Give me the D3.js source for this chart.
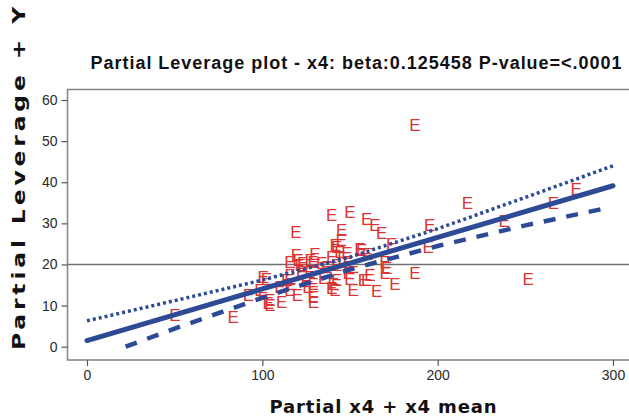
<!DOCTYPE html>
<html>
<head>
<meta charset="utf-8">
<script src="https://cdn.jsdelivr.net/npm/d3@7"></script>
<style>
  html, body { margin: 0; padding: 0; background: #fff; }
  svg { display: block; }
</style>
</head>
<body>
<svg id="chart" width="629" height="420"></svg>
<script>
// Partial leverage observations for x4 (partial x4 + x4 mean, partial leverage + Y)
const obsX = [187, 217, 279, 266, 238, 195.5, 194.6, 251.6, 187, 175.6,
              165.2, 159.5, 151.8, 170, 161.3, 150, 140.4, 150, 139.5, 159.5,
              164.2, 145.2, 168, 173.7, 156.6, 142.4, 119.2, 115.7, 120.5, 129,
              133.8, 139.5, 100.5, 50.2, 83.4, 92, 100.5, 103.4, 111, 115.7,
              113.9, 121.6, 129.2, 129, 129, 139.5, 142.4, 149, 122.4, 136.7,
              119.5, 127.3, 141.5, 144.2, 148.2, 155.6, 149, 142.4, 127.1, 129,
              141.4, 157.6, 170.9, 169.9, 102.4, 104.3, 98.6, 104.3, 116.7, 115.7,
              146, 152, 135, 125, 110, 160, 145, 130, 120, 123, 126];
const obsY = [53.9, 34.9, 38.5, 35.0, 30.7, 29.6, 24.3, 16.4, 17.9, 15.3,
              13.6, 16.2, 13.8, 17.9, 17.4, 16.6, 15.4, 32.8, 32.0, 31.2,
              29.6, 28.4, 27.7, 25.1, 23.5, 24.3, 28.0, 20.7, 21.1, 20.7,
              20.4, 21.9, 17.0, 7.7, 7.3, 12.6, 13.0, 10.6, 10.9, 13.8,
              16.2, 19.9, 10.9, 13.4, 15.4, 14.2, 16.2, 17.9, 18.2, 19.5,
              22.3, 21.1, 24.7, 23.1, 22.7, 23.9, 20.7, 19.9, 18.2, 12.2,
              13.8, 16.2, 19.1, 20.7, 16.6, 11.4, 13.8, 10.1, 15.4, 17.4,
              21.5, 19.5, 16.8, 16.0, 14.5, 22.5, 26.0, 22.5, 12.5, 20.5, 14.5];

// Fitted line (slope = beta 0.125458)
const fitX = [0, 300];
const fitY = [1.5, 39.14];

// Upper confidence limit (dotted)
const upperX = [0, 50, 100, 150, 200, 250, 300];
const upperY = [6.3, 11.2, 16.2, 21.8, 28.7, 36.3, 44.0];

// Lower confidence limit (dashed)
const lowerX = [22, 50, 100, 150, 200, 250, 295];
const lowerY = [0.0, 4.4, 11.9, 18.8, 24.5, 29.5, 33.6];

// Reference line at the mean of the response
const refY = 20;

const xTicks = [0, 100, 200, 300];
const yTicks = [0, 10, 20, 30, 40, 50, 60];

const titleText = "Partial Leverage plot - x4: beta:0.125458 P-value=<.0001";
const xTitle = "Partial x4 + x4 mean";
const yTitle = "Partial Leverage + Y";

const svg = d3.select("#chart");

const frame = { left: 67.5, top: 89.5, right: 640, bottom: 360 };

const x = d3.scaleLinear().domain([0, 300]).range([87, 613]);
const y = d3.scaleLinear().domain([0, 60]).range([346.7, 100]);

const blue = "#2d4a96";
const red = "#dc3333";
const frameColor = "#8a8a8a";

// Title
svg.append("text")
  .attr("x", 356).attr("y", 69)
  .attr("text-anchor", "middle")
  .attr("font-family", "Liberation Sans, Arial, sans-serif")
  .attr("font-weight", "bold")
  .attr("font-size", 18)
  .attr("fill", "#111")
  .attr("textLength", 531)
  .attr("lengthAdjust", "spacing")
  .text(titleText);

// Clip for plot contents
svg.append("clipPath").attr("id", "plotClip")
  .append("rect")
  .attr("x", frame.left).attr("y", frame.top)
  .attr("width", frame.right - frame.left).attr("height", frame.bottom - frame.top);

const plot = svg.append("g").attr("clip-path", "url(#plotClip)");

// Reference line
plot.append("line")
  .attr("x1", frame.left).attr("x2", frame.right)
  .attr("y1", y(refY)).attr("y2", y(refY))
  .attr("stroke", "#707070").attr("stroke-width", 1.5);

// Observation markers
plot.append("g").selectAll("text")
  .data(obsX.map((d, i) => [d, obsY[i]]))
  .join("text")
  .attr("x", d => x(d[0]))
  .attr("y", d => y(d[1]))
  .attr("dy", "0.36em")
  .attr("text-anchor", "middle")
  .attr("font-family", "Liberation Sans, Arial, sans-serif")
  .attr("font-size", 17)
  .attr("fill", red)
  .text("E");

const line = d3.line().x(d => x(d[0])).y(d => y(d[1]));

// Confidence limits and fit
plot.append("path")
  .datum(upperX.map((d, i) => [d, upperY[i]]))
  .attr("d", line).attr("fill", "none")
  .attr("stroke", blue).attr("stroke-width", 3.5)
  .attr("stroke-dasharray", "3,3");

plot.append("path")
  .datum(lowerX.map((d, i) => [d, lowerY[i]]))
  .attr("d", line).attr("fill", "none")
  .attr("stroke", blue).attr("stroke-width", 4.5)
  .attr("stroke-dasharray", "12,11");

plot.append("path")
  .datum(fitX.map((d, i) => [d, fitY[i]]))
  .attr("d", line).attr("fill", "none")
  .attr("stroke", blue).attr("stroke-width", 5)
  .attr("stroke-linecap", "round");

// Frame
svg.append("rect")
  .attr("x", frame.left).attr("y", frame.top)
  .attr("width", frame.right - frame.left).attr("height", frame.bottom - frame.top)
  .attr("fill", "none").attr("stroke", frameColor).attr("stroke-width", 1.6);

// Axes
const xAxis = d3.axisBottom(x).tickValues(xTicks).tickSize(6).tickPadding(4);
const gx = svg.append("g").attr("transform", `translate(0,${frame.bottom})`).call(xAxis);
gx.select(".domain").remove();

const yAxis = d3.axisLeft(y).tickValues(yTicks).tickSize(6).tickPadding(4);
const gy = svg.append("g").attr("transform", `translate(${frame.left},0)`).call(yAxis);
gy.select(".domain").remove();

[gx, gy].forEach(g => {
  g.selectAll(".tick line").attr("stroke", "#555").attr("stroke-width", 1.2);
  g.selectAll(".tick text")
    .attr("font-family", "Liberation Sans, Arial, sans-serif")
    .attr("font-size", 14)
    .attr("fill", "#2a2a2a");
});

// Axis titles
svg.append("text")
  .attr("x", 383).attr("y", 413)
  .attr("text-anchor", "middle")
  .attr("font-family", "DejaVu Sans, sans-serif")
  .attr("font-weight", "bold")
  .attr("font-size", 18)
  .attr("fill", "#111")
  .attr("textLength", 227)
  .attr("lengthAdjust", "spacing")
  .text(xTitle);

// Wide, heavy vertical title
svg.append("text")
  .attr("transform", "translate(25,178.5) rotate(-90) scale(1.3,1)")
  .attr("text-anchor", "middle")
  .attr("font-family", "DejaVu Sans, sans-serif")
  .attr("font-weight", "bold")
  .attr("font-size", 18)
  .attr("fill", "#111")
  .attr("textLength", 264)
  .attr("lengthAdjust", "spacing")
  .text(yTitle);
</script>
</body>
</html>
